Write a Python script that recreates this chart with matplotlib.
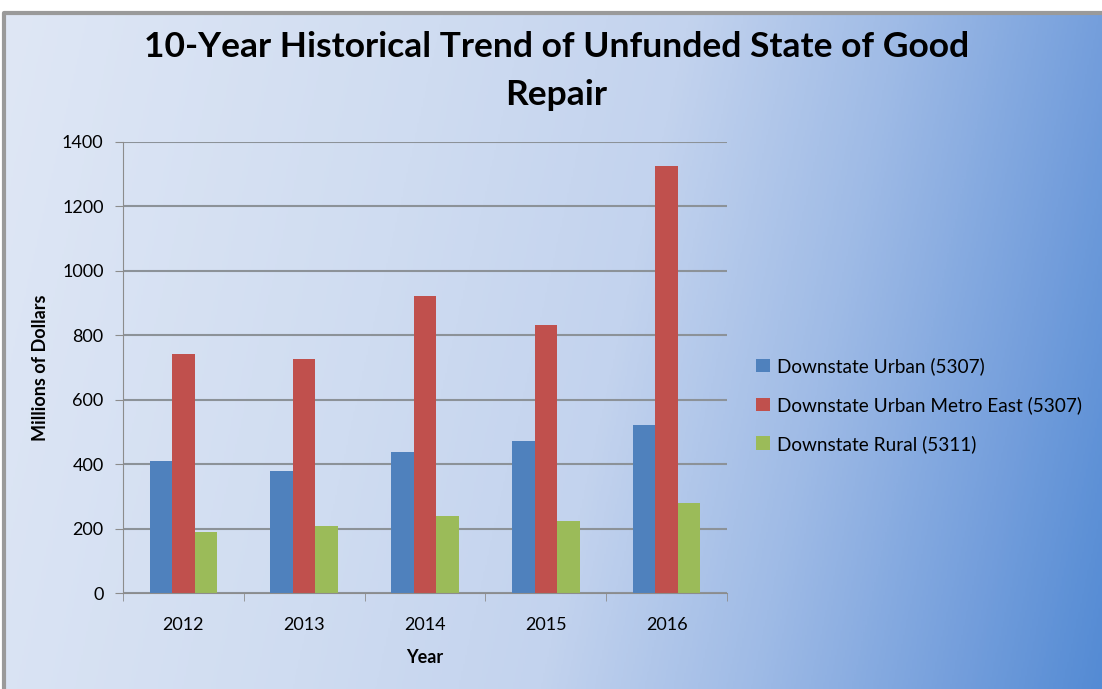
import numpy as np
import matplotlib
matplotlib.use("Agg")
from matplotlib import pyplot as plt
from matplotlib.colors import LinearSegmentedColormap

years = ["2012", "2013", "2014", "2015", "2016"]
urban = [411, 380, 439, 473, 523]
metro_east = [741, 727, 921, 832, 1326]
rural = [190, 209, 238, 224, 279]
series_names = ["Downstate Urban (5307)", "Downstate Urban Metro East (5307)", "Downstate Rural (5311)"]
colors = ["#4f81bd", "#c0504d", "#9bbb59"]

plt.rcParams["font.family"] = ["Lato", "DejaVu Sans"]

fig = plt.figure(figsize=(11.02, 6.89), dpi=100)
fig.patch.set_facecolor("white")

# gradient backdrop
bg = fig.add_axes([0.004, 0, 0.996, 1 - 13 / 689])
bg.set_axis_off()
h, w = 300, 600
xx, yy = np.meshgrid(np.linspace(0, 1, w), np.linspace(0, 1, h))
t = np.clip(0.88 * xx + 0.12 * yy, 0, 1)
grad = LinearSegmentedColormap.from_list("bg", [
    (0.0, "#dfe7f5"), (0.35, "#cfdcf1"), (0.55, "#c3d3ee"),
    (0.72, "#9fbbe6"), (0.88, "#759fdc"), (1.0, "#548bd4")])
bg.imshow(grad(t), aspect="auto", extent=[0, 1, 0, 1], origin="upper")
bg.set_xlim(0, 1)
bg.set_ylim(0, 1)
bg.plot([0, 0, 1], [0, 1, 1], transform=bg.transAxes, color="#9a9a9a",
        linewidth=3, clip_on=False)

ax = fig.add_axes([123 / 1102, 1 - 593 / 689, (727 - 123) / 1102, (593 - 142) / 689])
ax.patch.set_alpha(0)

x = np.arange(len(years))
bw = 0.187
for i, (vals, name, c) in enumerate(zip([urban, metro_east, rural], series_names, colors)):
    ax.bar(x + (i - 1) * bw, vals, width=bw, color=c, label=name, zorder=3)

ax.set_xlim(-0.5, len(years) - 0.5)
ax.set_ylim(0, 1400)
ax.set_yticks(range(0, 1401, 200))
ax.set_xticks(x)
ax.set_xticklabels(years)
ax.set_xticks(np.arange(-0.5, len(years), 1), minor=True)
ax.tick_params(axis="x", which="major", length=0, pad=17, labelsize=13)
ax.tick_params(axis="x", which="minor", length=6, color="#8c8c8c", direction="out")
ax.tick_params(axis="y", length=6, color="#8c8c8c", labelsize=13, pad=8)
ax.grid(axis="y", color="#8c9298", linewidth=1.5, zorder=0)
for s in ["top", "right"]:
    ax.spines[s].set_visible(False)
ax.spines["left"].set_color("#8c8c8c")
ax.spines["bottom"].set_color("#8c8c8c")
ax.spines["bottom"].set_zorder(4)

ax.set_xlabel("Year", fontsize=13, fontweight="bold", labelpad=12)
ax.set_ylabel("Millions of Dollars", fontsize=13, fontweight="bold", labelpad=9)

fig.text(0.505, 1 - 47 / 689, "10-Year Historical Trend of Unfunded State of Good",
         ha="center", va="center", fontsize=25.5, fontweight="bold")
fig.text(0.505, 1 - 95 / 689, "Repair", ha="center", va="center",
         fontsize=25.5, fontweight="bold")

ax.legend(loc="center left", bbox_to_anchor=(1.02, 0.417), frameon=False,
          fontsize=13.7, handlelength=0.7, handleheight=0.7, handletextpad=0.4,
          labelspacing=1.1)

fig.savefig("out.png", dpi=100)
